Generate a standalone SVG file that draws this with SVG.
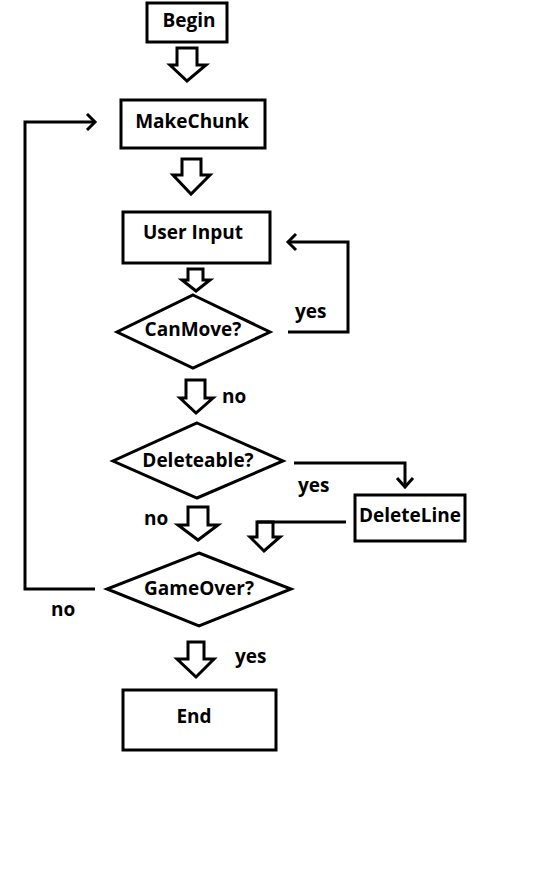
<svg xmlns="http://www.w3.org/2000/svg" width="545" height="886" viewBox="0 0 545 886">
<style>
.n{fill:#fff;stroke:#000;stroke-width:3}
.t{font-family:"Open Sans","DejaVu Sans",sans-serif;font-weight:bold;font-size:19px;fill:#000;text-anchor:middle}
.l{font-family:"Open Sans","DejaVu Sans",sans-serif;font-weight:bold;font-size:19px;fill:#000}
.c{fill:none;stroke:#000;stroke-width:3}
.b{fill:#fff;stroke:#000;stroke-width:3;stroke-linejoin:miter}
</style>
<rect width="545" height="886" fill="#fff"/>
<g id="connectors">
<polygon class="b" points="177,48 197,48 197,65 206,65 187,81 170,65 177,65"/>
<polygon class="b" points="182,159 201,159 201,175 210,175 191,194 173,175 182,175"/>
<polygon class="b" points="188,269 203,269 203,280 210,280 196,291 182,280 188,280"/>
<polygon class="b" points="186,380 205,380 205,398 213,398 196,413 180,398 186,398"/>
<polygon class="b" points="188,507 208,507 208,525 218,525 198,540 178,525 188,525"/>
<polygon class="b" points="257,522 273,522 273,537 280,537 264,551 250,537 257,537"/>
<polygon class="b" points="188,642 204,642 204,659 214,659 196,677 177,659 188,659"/>
<polyline class="c" points="288,332 348,332 348,242 289,242"/>
<polyline class="c" points="296,234 288,242 296,250"/>
<polyline class="c" points="294,463 405,463 405,486"/>
<polyline class="c" points="397,478 405,487 413,478"/>
<polyline class="c" points="346,522 257,522"/>
<polyline class="c" points="95,589 25,589 25,122 95,122"/>
<polyline class="c" points="87,114 95,122 87,130"/>
<text class="l" x="295" y="318">yes</text>
<text class="l" x="222" y="403">no</text>
<text class="l" x="298" y="492">yes</text>
<text class="l" x="144" y="525">no</text>
<text class="l" x="51" y="616">no</text>
<text class="l" x="235" y="663">yes</text>
</g>
<g id="begin"><rect class="n" x="147" y="3" width="80" height="39"/><text class="t" x="189" y="27">Begin</text></g>
<g id="makechunk"><rect class="n" x="121" y="100" width="144" height="48"/><text class="t" x="192" y="128">MakeChunk</text></g>
<g id="userinput"><rect class="n" x="123" y="212" width="147" height="51"/><text class="t" x="193" y="239">User Input</text></g>
<g id="canmove"><polygon class="n" points="193,295 270,332 193,368 117,332"/><text class="t" x="193" y="336">CanMove?</text></g>
<g id="deleteable"><polygon class="n" points="197,423 283,461 197,498 113,461"/><text class="t" x="198" y="467">Deleteable?</text></g>
<g id="deleteline"><rect class="n" x="355" y="495" width="110" height="46"/><text class="t" x="410" y="522">DeleteLine</text></g>
<g id="gameover"><polygon class="n" points="199,553 291,589 199,626 107,589"/><text class="t" x="199" y="595">GameOver?</text></g>
<g id="end"><rect class="n" x="123" y="690" width="153" height="60"/><text class="t" x="194" y="723">End</text></g>
</svg>
